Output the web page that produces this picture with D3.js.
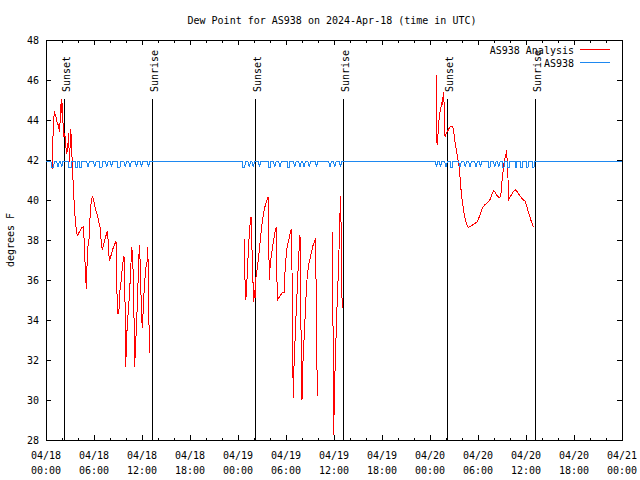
<!DOCTYPE html>
<html><head><meta charset="utf-8">
<script src="https://cdn.jsdelivr.net/npm/d3@7"></script>
<style>
body{margin:0;background:#fff}
svg{display:block}
text{font-family:"DejaVu Sans Mono","Liberation Mono",monospace;font-size:10px;fill:#000}
</style>
</head><body>
<svg id="chart" width="640" height="480"></svg>
<script>
// ---------------- data ----------------
const titleText = "Dew Point for AS938 on 2024-Apr-18 (time in UTC)";
const yLabelText = "degrees F";
const startTime = "2024-04-18T00:00:00Z";
const endTime = "2024-04-21T00:00:00Z";
const yDomain = [28, 48];
const yTicks = [28, 30, 32, 34, 36, 38, 40, 42, 44, 46, 48];
const xMajorHours = [0, 6, 12, 18, 24, 30, 36, 42, 48, 54, 60, 66, 72];
const xMinorHours = [2, 4, 8, 10, 14, 16, 20, 22, 26, 28, 32, 34, 38, 40, 44, 46, 50, 52, 56, 58, 62, 64, 68, 70];
const xTickDates = ["04/18","04/18","04/18","04/18","04/19","04/19","04/19","04/19","04/20","04/20","04/20","04/20","04/21"];
const xTickTimes = ["00:00","06:00","12:00","18:00","00:00","06:00","12:00","18:00","00:00","06:00","12:00","18:00","00:00"];
const sunLabels = ["Sunset","Sunrise","Sunset","Sunrise","Sunset","Sunrise"];
const sunHours = [2.28, 13.28, 26.16, 37.2, 50.16, 61.16];
const seriesNames = ["AS938 Analysis", "AS938"];
const seriesColors = ["#ff0000", "#1e88f0"];

// hours since 04/18 00:00 UTC, dew point (null = no data)
const analysisPoints = [
[0.75,41.5],[0.79,42.25],[0.92,43.7],[1.04,44.42],[1.17,44.25],[1.29,44.08],[1.42,43.83],[1.54,43.75],[1.67,43.42],[1.75,43.83],[1.83,44.5],[1.92,45.03],[2.0,44.33],[2.04,44.83],[2.13,43.83],[2.25,43.17],[2.33,43.33],[2.46,42.92],[2.54,42.33],[2.67,42.42],[2.75,42.83],[2.83,43.33],[2.92,41.92],[3.0,42.58],[3.08,43.53],[3.17,43.08],[3.25,42.17],[3.33,41.5],[3.42,40.58],[3.54,39.75],[3.67,38.92],[3.79,38.5],[3.92,38.22],[4.04,38.3],[4.17,38.42],[4.33,38.5],[4.46,38.62],[4.67,38.67],[4.79,37.83],[4.92,36.42],[5.04,35.57],[5.13,36.75],[5.25,37.67],[5.38,38.08],[5.5,39.08],[5.63,39.83],[5.79,40.2],[5.96,40.0],[6.08,39.75],[6.21,39.5],[6.33,39.37],[6.46,39.17],[6.63,38.83],[6.75,38.67],[6.92,37.83],[7.04,37.5],[7.17,37.75],[7.29,37.92],[7.46,38.17],[7.58,38.33],[7.71,38.45],[7.83,37.33],[7.96,36.97],[8.08,37.17],[8.21,37.33],[8.33,37.53],[8.5,37.7],[8.63,37.83],[8.75,37.92],[8.88,35.25],[9.0,34.3],[9.13,34.55],[9.25,35.5],[9.38,35.92],[9.5,36.42],[9.63,36.92],[9.75,37.2],[9.88,34.83],[9.96,31.63],[10.08,33.17],[10.21,34.0],[10.33,34.67],[10.46,35.5],[10.58,36.42],[10.71,37.67],[10.79,37.33],[10.92,36.17],[11.04,33.17],[11.08,31.67],[11.21,32.83],[11.33,33.83],[11.46,35.33],[11.58,36.83],[11.67,37.73],[11.79,36.75],[11.92,34.5],[12.04,33.58],[12.17,34.67],[12.29,35.67],[12.42,36.33],[12.54,36.83],[12.63,36.92],[12.71,37.67],[12.79,36.5],[12.92,32.33],
[18,null],
[24.79,38.03],[24.81,36.53],[24.88,36.0],[24.96,35.0],[25.04,35.33],[25.13,36.08],[25.21,36.67],[25.29,37.5],[25.38,38.08],[25.5,38.75],[25.63,39.17],[25.71,38.08],[25.79,37.0],[25.88,35.83],[25.96,34.92],[26.04,35.5],[26.13,35.08],[26.21,35.92],[26.29,36.33],[26.42,36.58],[26.54,37.08],[26.67,37.5],[26.79,38.0],[26.92,38.5],[27.04,38.92],[27.17,39.25],[27.29,39.53],[27.42,39.75],[27.54,39.92],[27.67,40.03],[27.79,40.17],[27.83,38.08],[27.92,36.0],[28.0,36.58],[28.08,37.0],[28.21,37.33],[28.33,37.67],[28.46,38.0],[28.58,38.33],[28.71,38.5],[28.79,38.67],[28.83,36.83],[28.92,35.0],[29.04,35.08],[29.21,35.17],[29.38,35.28],[29.58,35.37],[29.79,35.38],[29.83,36.08],[29.96,36.92],[30.08,37.5],[30.21,37.75],[30.33,37.97],[30.46,38.2],[30.58,38.42],[30.67,38.53],[30.75,36.5],[30.83,32.17],[30.92,30.08],[31.0,31.67],[31.13,33.0],[31.25,34.17],[31.38,35.33],[31.5,36.42],[31.63,37.5],[31.75,38.25],[31.83,35.5],[31.92,31.67],[32.0,30.0],[32.08,31.5],[32.21,32.67],[32.33,33.67],[32.46,34.75],[32.58,35.83],[32.71,36.37],[32.83,36.75],[32.96,37.0],[33.08,37.2],[33.21,37.42],[33.33,37.67],[33.46,37.83],[33.58,37.92],[33.71,38.08],[33.79,34.17],[33.92,30.2],
[34.8,null],
[35.83,38.42],[35.88,33.33],[35.96,28.25],[36.0,29.17],[36.08,30.83],[36.21,32.5],[36.33,34.17],[36.46,35.5],[36.58,36.83],[36.67,38.17],[36.75,39.33],[36.83,40.2],[36.9,38.3],[36.96,36.2],[37.02,34.6],
[43,null],
[48.79,46.25],[48.81,44.58],[48.88,42.75],[48.96,43.0],[49.04,43.58],[49.13,44.0],[49.21,44.25],[49.29,44.5],[49.38,44.67],[49.46,44.92],[49.54,44.75],[49.63,45.17],[49.71,45.38],[49.79,44.42],[49.88,43.17],[49.96,43.25],[50.04,43.33],[50.17,43.42],[50.29,43.5],[50.42,43.62],[50.54,43.67],[50.67,43.7],[50.79,43.7],[50.92,43.58],[51.04,43.17],[51.17,42.75],[51.29,42.5],[51.42,42.17],[51.54,41.92],[51.67,41.58],[51.79,40.92],[51.92,40.33],[52.04,39.92],[52.17,39.58],[52.29,39.25],[52.42,39.0],[52.54,38.83],[52.67,38.72],[52.79,38.63],[53.04,38.68],[53.33,38.75],[53.58,38.82],[53.83,38.88],[54.08,39.08],[54.33,39.33],[54.58,39.62],[54.83,39.75],[55.08,39.83],[55.33,39.92],[55.58,40.08],[55.71,40.25],[55.83,40.38],[55.96,40.48],[56.08,40.42],[56.21,40.33],[56.33,40.25],[56.46,40.17],[56.71,40.12],[56.83,40.22],[56.92,40.5],[57.0,40.92],[57.08,41.25],[57.17,41.58],[57.25,41.83],[57.33,42.0],[57.42,42.17],[57.5,42.28],[57.58,42.5],[57.67,41.75],[57.75,41.08],[57.79,40.0],[57.92,40.08],[58.17,40.25],[58.42,40.42],[58.67,40.5],[58.92,40.42],[59.17,40.25],[59.42,40.12],[59.67,40.0],[59.79,40.0],[59.92,39.92],[60.17,39.58],[60.42,39.25],[60.67,38.92],[60.92,38.67]
];

const obsPoints = [
[0,41.95],[0.6,41.95],[0.72,41.65],[0.95,41.65],[1.07,41.95],
[1.3,41.95],[1.5,41.65],[1.7,41.95],[1.78,41.95],[1.96,41.65],[2.14,41.95],
[2.85,41.95],[2.87,41.65],[3.15,41.65],[3.17,41.95],
[3.68,41.95],[3.7,41.65],[3.95,41.65],[3.97,41.95],
[4.2,41.95],[4.22,41.65],[4.45,41.65],[4.47,41.95],
[5.07,41.95],[5.25,41.65],[5.43,41.95],[5.92,41.95],[6.1,41.65],[6.28,41.95],
[6.73,41.95],[6.75,41.65],[7.0,41.65],[7.02,41.95],
[7.42,41.95],[7.6,41.65],[7.78,41.95],[8.02,41.95],[8.2,41.65],[8.38,41.95],
[8.98,41.95],[9.0,41.65],[9.25,41.65],[9.27,41.95],
[9.72,41.95],[9.9,41.65],[10.08,41.95],[10.32,41.95],[10.5,41.65],[10.68,41.95],
[11.12,41.95],[11.3,41.65],[11.48,41.95],[11.77,41.95],[11.95,41.65],[12.13,41.95],
[12.62,41.95],[12.8,41.65],[12.98,41.95],
[24.5,41.95],[24.6,41.65],[24.85,41.65],[24.95,41.95],
[25.22,41.95],[25.4,41.65],[25.58,41.95],[25.72,41.95],[25.9,41.65],[26.08,41.95],
[26.52,41.95],[26.7,41.65],[26.88,41.95],
[27.78,41.95],[27.8,41.65],[28.05,41.65],[28.07,41.95],
[28.42,41.95],[28.6,41.65],[28.78,41.95],[29.07,41.95],[29.25,41.65],[29.43,41.95],
[30.18,41.95],[30.2,41.65],[30.45,41.65],[30.47,41.95],
[30.92,41.95],[31.1,41.65],[31.28,41.95],[31.57,41.95],[31.75,41.65],[31.93,41.95],
[32.07,41.95],[32.25,41.65],[32.43,41.95],[32.72,41.95],[32.9,41.65],[33.08,41.95],
[33.62,41.95],[33.8,41.65],[33.98,41.95],
[35.32,41.95],[35.5,41.65],[35.68,41.95],[35.92,41.95],[36.1,41.65],[36.28,41.95],
[36.62,41.95],[36.8,41.65],[36.98,41.95],
[48.62,41.95],[48.8,41.65],[48.98,41.95],[49.12,41.95],[49.3,41.65],[49.48,41.95],
[49.82,41.95],[50.0,41.65],[50.18,41.95],
[50.58,41.95],[50.6,41.65],[50.8,41.65],[50.82,41.95],
[51.57,41.95],[51.75,41.65],[51.93,41.95],[52.22,41.95],[52.4,41.65],[52.58,41.95],
[52.82,41.95],[53.0,41.65],[53.18,41.95],[53.57,41.95],[53.75,41.65],[53.93,41.95],
[54.12,41.95],[54.3,41.65],[54.48,41.95],
[55.28,41.95],[55.3,41.65],[55.5,41.65],[55.52,41.95],
[55.92,41.95],[56.1,41.65],[56.28,41.95],[56.42,41.95],[56.6,41.65],[56.78,41.95],
[57.03,41.95],[57.05,41.65],[57.25,41.65],[57.27,41.95],
[57.68,41.95],[57.7,41.65],[57.9,41.65],[57.92,41.95],
[58.63,41.95],[58.65,41.65],[58.85,41.65],[58.87,41.95],
[59.33,41.95],[59.35,41.65],[59.55,41.65],[59.57,41.95],
[60.03,41.95],[60.05,41.65],[60.25,41.65],[60.27,41.95],
[60.78,41.95],[60.8,41.65],[61.0,41.65],[61.02,41.95],
[72,41.95]
];

// ---------------- chart ----------------
const svg = d3.select("#chart");
const t0 = new Date(startTime).getTime();
const toDate = h => new Date(t0 + h * 3600e3);

const mLeft = 46, mRight = 622, mTop = 40, mBottom = 440;
const x = d3.scaleUtc().domain([new Date(startTime), new Date(endTime)]).range([mLeft, mRight]);
const y = d3.scaleLinear().domain(yDomain).range([mBottom, mTop]);

// title
svg.append("text").attr("x", 332).attr("y", 24).attr("text-anchor", "middle").text(titleText);
// y label
svg.append("text").attr("transform", "translate(14,240) rotate(-90)").attr("text-anchor", "middle").text(yLabelText);

// axes
svg.append("g").attr("transform", `translate(0,${mBottom})`)
  .call(d3.axisBottom(x).tickValues(xMajorHours.map(toDate)).tickSizeInner(-5).tickSizeOuter(0).tickFormat(""));
svg.append("g").attr("transform", `translate(0,${mBottom})`)
  .call(d3.axisBottom(x).tickValues(xMinorHours.map(toDate)).tickSizeInner(-2.5).tickSizeOuter(0).tickFormat(""));
svg.append("g").attr("transform", `translate(0,${mTop})`)
  .call(d3.axisTop(x).tickValues(xMajorHours.map(toDate)).tickSizeInner(-5).tickSizeOuter(0).tickFormat(""));
svg.append("g").attr("transform", `translate(0,${mTop})`)
  .call(d3.axisTop(x).tickValues(xMinorHours.map(toDate)).tickSizeInner(-2.5).tickSizeOuter(0).tickFormat(""));
svg.append("g").attr("transform", `translate(${mLeft},0)`)
  .call(d3.axisLeft(y).tickValues(yTicks).tickSizeInner(-5).tickSizeOuter(0).tickPadding(7).tickFormat(d3.format("d")));
svg.append("g").attr("transform", `translate(${mRight},0)`)
  .call(d3.axisRight(y).tickValues(yTicks).tickSizeInner(-5).tickSizeOuter(0).tickFormat(""));

svg.selectAll(".domain").remove();
svg.selectAll(".tick line").attr("stroke", "#000").attr("shape-rendering", "crispEdges");
svg.selectAll("g").attr("font-family", null).attr("font-size", null);
svg.selectAll(".tick text").attr("fill", "#000");

// x labels (two lines)
const xl = svg.append("g");
xMajorHours.forEach((h, i) => {
  const xp = x(toDate(h));
  const t = xl.append("text").attr("text-anchor", "middle");
  t.append("tspan").attr("x", xp).attr("y", 459).text(xTickDates[i]);
  t.append("tspan").attr("x", xp).attr("y", 474).text(xTickTimes[i]);
});

// border
svg.append("rect").attr("x", mLeft).attr("y", mTop).attr("width", mRight - mLeft).attr("height", mBottom - mTop)
  .attr("fill", "none").attr("stroke", "#000").attr("shape-rendering", "crispEdges");

// sunrise / sunset markers
sunHours.forEach((h, i) => {
  const xp = x(toDate(h));
  svg.append("line").attr("x1", xp).attr("x2", xp).attr("y1", 99).attr("y2", mBottom)
    .attr("stroke", "#000").attr("shape-rendering", "crispEdges");
  svg.append("text").attr("transform", `translate(${xp + 5.5},92) rotate(-90)`).text(sunLabels[i]);
});

// lines
const line = d3.line()
  .defined(d => d[1] !== null)
  .x(d => x(toDate(d[0])))
  .y(d => y(d[1]));

svg.append("path").datum(analysisPoints).attr("d", line)
  .attr("fill", "none").attr("stroke", seriesColors[0]).attr("stroke-width", 1)
  .attr("shape-rendering", "crispEdges");
svg.append("path").datum(obsPoints).attr("d", line)
  .attr("fill", "none").attr("stroke", seriesColors[1]).attr("stroke-width", 1)
  .attr("shape-rendering", "crispEdges");

// legend
seriesNames.forEach((name, i) => {
  const ly = 49.5 + i * 13;
  svg.append("text").attr("x", 574).attr("y", ly + 4).attr("text-anchor", "end").text(name);
  svg.append("line").attr("x1", 580).attr("x2", 610).attr("y1", ly).attr("y2", ly)
    .attr("stroke", seriesColors[i]).attr("stroke-width", 1).attr("shape-rendering", "crispEdges");
});
</script>
</body></html>
